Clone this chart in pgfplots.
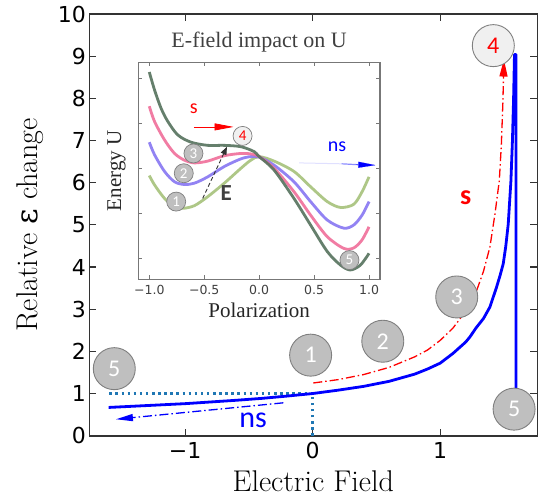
\documentclass[border=0pt]{standalone}
\usepackage{fontspec}
\usepackage{pgfplots}
\pgfplotsset{compat=1.18}
\usetikzlibrary{arrows.meta}
\newfontfamily\dejavu{DejaVu Sans}
\newfontfamily\dejavuserif{DejaVu Serif}
\newfontfamily\timesf{Liberation Serif}
\newfontfamily\annot{Carlito}
\definecolor{spine}{HTML}{333333}
\definecolor{cz}{HTML}{1F77B4}
\definecolor{circfill}{HTML}{BFBFBF}
\definecolor{circedge}{HTML}{7F7F7F}
\definecolor{lightfill}{HTML}{F0F0F0}
\definecolor{ugreen}{HTML}{A6C27A}
\definecolor{upurple}{HTML}{8776F2}
\definecolor{upink}{HTML}{F06E9A}
\definecolor{udark}{HTML}{55725D}
\definecolor{insetgray}{HTML}{777777}
\begin{document}
\begin{tikzpicture}
\begin{axis}[name=main, scale only axis, width=448pt, height=421.7pt,
  xmin=-1.752, xmax=1.762, ymin=0, ymax=10,
  clip=false,
  axis line style={spine, line width=1.6pt},
  tick align=inside, major tick length=7pt,
  tick style={spine, line width=1.2pt},
  xtick={-1,0,1}, xticklabels={−1,0,1},
  ytick={0,1,2,3,4,5,6,7,8,9,10},
  /pgf/number format/assume math mode=true,
  tick label style={font=\fontsize{22}{26}\selectfont\dejavu},
  x tick label style={yshift=-3pt},
  xlabel={Electric Field},
  ylabel={Relative {\dejavuserif ε} change},
  label style={font=\fontsize{30}{36}\selectfont},
  xlabel style={at={([yshift=-56pt]rel axis cs:0.5,0)}, anchor=base, inner sep=0pt},
  ylabel style={at={([xshift=-51.3pt]rel axis cs:0,0.5)}, anchor=base, inner sep=0pt},
]
% numbered circles
\addplot[only marks, mark=*, mark size=21pt,
  mark options={fill=circfill, draw=circedge, line width=0.9pt},
  nodes near coords, point meta=explicit symbolic, nodes near coords align=center,
  every node near coord/.append style={anchor=center, font=\fontsize{24}{28}\selectfont\annot, text=white}]
  coordinates {(-1.556,1.59)[5] (-0.016,1.91)[1] (0.55,2.24)[2] (1.13,3.29)[3] (1.58,0.63)[5]};
\addplot[only marks, mark=*, mark size=21pt,
  mark options={fill=lightfill, draw=circedge, line width=0.9pt},
  nodes near coords, point meta=explicit symbolic, nodes near coords align=center,
  every node near coord/.append style={anchor=center, font=\fontsize{24}{28}\selectfont\annot, text=red}]
  coordinates {(1.417,9.25)[4]};
% dotted guides
\addplot[cz, line width=2.5pt, dash pattern=on 2.5pt off 3.6pt] coordinates {(-1.595,1) (0,1)};
\addplot[cz, line width=2.5pt, dash pattern=on 2.5pt off 3.6pt] coordinates {(0,0) (0,1)};
% ns curve
\addplot[blue, line width=2.8pt, line join=round] coordinates {
(-1.60,0.67) (-1.4,0.70) (-1.2,0.73) (-1.0,0.76) (-0.8,0.80) (-0.6,0.84) (-0.4,0.885)
(-0.2,0.94) (0,1.0) (0.2,1.08) (0.4,1.17) (0.6,1.29) (0.8,1.46) (0.9,1.58) (1.0,1.72)
(1.1,1.95) (1.2,2.22) (1.233,2.34) (1.28,2.55) (1.34,2.78) (1.39,3.05) (1.44,3.5)
(1.47,3.8) (1.495,4.08) (1.515,4.5) (1.534,5.02) (1.555,6.04) (1.567,7.0) (1.576,8.0)
(1.583,9.04) (1.595,9.04) (1.595,1.12)};
% s curve
\addplot[red, line width=1.3pt, dash pattern=on 9pt off 3pt on 1.5pt off 3pt,
  -{Triangle[length=17pt,width=8pt]}] coordinates {
(0.005,1.25) (0.2,1.33) (0.4,1.45) (0.6,1.62) (0.8,1.87) (0.9,2.03) (1.0,2.26) (1.1,2.55)
(1.2,2.95) (1.286,3.44) (1.34,3.9) (1.39,4.47) (1.43,5.26) (1.464,6.05) (1.48,6.9)
(1.492,7.9) (1.50,8.92)};
% ns arrow
\addplot[blue, line width=1.3pt, dash pattern=on 9pt off 3pt on 1.5pt off 3pt,
  -{Triangle[length=17pt,width=7pt]}] coordinates {(-0.23,0.78) (-1.543,0.39)};
\node[font=\fontsize{30}{36}\selectfont\annot, text=blue] at (axis cs:-0.468,0.37) {ns};
\node[font=\fontsize{28}{32}\selectfont\annot\bfseries, text=red] at (axis cs:1.20,5.65) {s};
\end{axis}

\begin{axis}[at={(main.north west)}, anchor=north west, xshift=49pt, yshift=-48.3pt,
  scale only axis, width=241.7pt, height=217pt,
  xmin=-1.1, xmax=1.1, ymin=-2.467, ymax=2.356,
  clip=false,
  axis background/.style={fill=white},
  axis line style={insetgray, line width=1.1pt},
  tick align=inside, major tick length=4pt,
  tick style={insetgray, line width=0.9pt},
  xtick={-1,-0.5,0,0.5,1}, xticklabels={−1.0,−0.5,0.0,0.5,1.0},
  ytick={-2,-1,0,1,2}, yticklabels={},
  x tick label style={font=\fontsize{12.5}{15}\selectfont\dejavu, text=black!75, yshift=-2pt},
  title={E-field impact on U},
  title style={at={([yshift=9pt]rel axis cs:0.5,1)}, anchor=base, inner sep=0pt,
    font=\fontsize{22}{26}\selectfont\timesf, text=black!75},
  xlabel={Polarization}, ylabel={Energy U},
  label style={font=\fontsize{21}{25}\selectfont\timesf, text=black!85},
  xlabel style={at={([yshift=-38.4pt]rel axis cs:0.5,0)}, anchor=base, inner sep=0pt},
  ylabel style={at={([xshift=-17.3pt]rel axis cs:0,0.5)}, anchor=base, inner sep=0pt},
]
\addplot[ugreen, line width=2.8pt, opacity=0.9, smooth] coordinates {
(-1.0,-0.16) (-0.952,-0.37) (-0.861,-0.67) (-0.77,-0.85) (-0.695,-0.89) (-0.589,-0.83)
(-0.468,-0.63) (-0.317,-0.33) (-0.166,0.0) (-0.076,0.18) (0,0.26) (0.136,0.16)
(0.317,-0.07) (0.468,-0.41) (0.62,-0.74) (0.74,-0.87) (0.861,-0.80) (0.937,-0.52) (1.0,-0.19)};
\addplot[upurple, line width=2.8pt, opacity=0.9, smooth] coordinates {
(-1.0,0.58) (-0.952,0.30) (-0.861,-0.07) (-0.77,-0.30) (-0.68,-0.36) (-0.589,-0.33)
(-0.468,-0.19) (-0.317,0.04) (-0.166,0.21) (-0.076,0.26) (0,0.25) (0.136,0.07)
(0.317,-0.30) (0.468,-0.74) (0.62,-1.15) (0.77,-1.33) (0.861,-1.26) (0.937,-1.04) (1.0,-0.74)};
\addplot[upink, line width=2.8pt, opacity=0.9, smooth] coordinates {
(-1.0,1.38) (-0.952,1.04) (-0.861,0.63) (-0.77,0.33) (-0.68,0.18) (-0.589,0.12)
(-0.468,0.16) (-0.317,0.28) (-0.166,0.33) (-0.076,0.32) (0,0.26) (0.136,0.0)
(0.317,-0.52) (0.468,-1.04) (0.62,-1.52) (0.77,-1.78) (0.861,-1.77) (0.937,-1.59) (1.0,-1.30)};
\addplot[udark, line width=2.8pt, opacity=0.9, smooth] coordinates {
(-1.0,2.14) (-0.952,1.74) (-0.892,1.33) (-0.831,1.04) (-0.74,0.74) (-0.62,0.58)
(-0.468,0.51) (-0.317,0.51) (-0.166,0.48) (-0.045,0.37) (0,0.26) (0.136,-0.04)
(0.317,-0.67) (0.468,-1.26) (0.62,-1.85) (0.74,-2.15) (0.83,-2.26) (0.922,-2.15) (1.0,-1.89)};
% circles
\addplot[only marks, mark=*, mark size=9.5pt,
  mark options={fill=circfill, draw=circedge, line width=0.7pt},
  nodes near coords, point meta=explicit symbolic, nodes near coords align=center,
  every node near coord/.append style={anchor=center, font=\fontsize{15}{18}\selectfont\annot, text=white}]
  coordinates {(-0.755,-0.74)[1] (-0.686,-0.11)[2] (-0.598,0.33)[3] (0.822,-2.04)[5]};
\addplot[only marks, mark=*, mark size=9.5pt,
  mark options={fill=lightfill, draw=circedge, line width=0.7pt},
  nodes near coords, point meta=explicit symbolic, nodes near coords align=center,
  every node near coord/.append style={anchor=center, font=\fontsize{15}{18}\selectfont\annot, text=red}]
  coordinates {(-0.151,0.72)[4]};
% arrows
\addplot[red, line width=0.8pt, -{Triangle[length=19pt,width=7pt]}] coordinates {(-0.595,0.92) (-0.233,0.92)};
\addplot[black!80, line width=0.9pt, dash pattern=on 4pt off 2.5pt, -{Triangle[length=8pt,width=6pt]}] coordinates {(-0.514,-0.67) (-0.293,0.48)};
\addplot[blue, opacity=0.12, line width=1pt] coordinates {(0.363,0.12) (0.75,0.10)};
\addplot[blue, opacity=0.45, line width=1.2pt] coordinates {(0.75,0.10) (0.9,0.08)};
\addplot[blue, line width=0.1pt, -{Triangle[length=17pt,width=6pt]}] coordinates {(0.88,0.08) (1.057,0.07)};
\node[font=\fontsize{20}{24}\selectfont\annot, text=red] at (axis cs:-0.595,1.33) {s};
\node[font=\fontsize{20}{24}\selectfont\annot, text=blue] at (axis cs:0.71,0.48) {ns};
\node[font=\fontsize{23}{26}\selectfont\annot\bfseries, text=black!75] at (axis cs:-0.30,-0.56) {E};
\end{axis}
\pgfresetboundingbox
\path[use as bounding box] ([xshift=-89.3pt,yshift=-62.3pt]main.south west) rectangle ([xshift=7.7pt,yshift=14pt]main.north east);
\end{tikzpicture}
\end{document}
